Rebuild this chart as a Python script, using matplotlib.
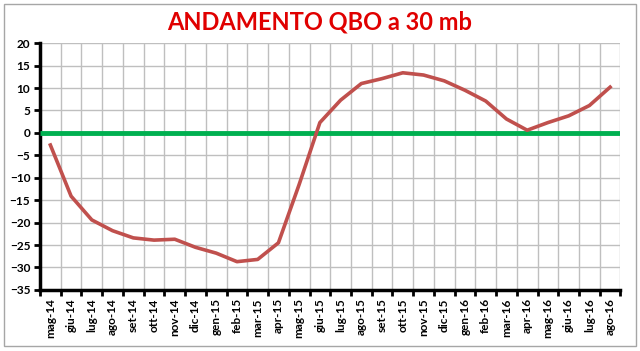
import matplotlib.pyplot as plt
import numpy as np
from matplotlib.patches import Rectangle

months = ["mag-14", "giu-14", "lug-14", "ago-14", "set-14", "ott-14", "nov-14",
          "dic-14", "gen-15", "feb-15", "mar-15", "apr-15", "mag-15", "giu-15",
          "lug-15", "ago-15", "set-15", "ott-15", "nov-15", "dic-15", "gen-16",
          "feb-16", "mar-16", "apr-16", "mag-16", "giu-16", "lug-16", "ago-16"]
qbo = [-2.7, -14.1, -19.4, -21.8, -23.4, -23.9, -23.7, -25.5, -26.8, -28.7,
       -28.2, -24.5, -11.5, 2.3, 7.3, 11.0, 12.1, 13.4, 12.9, 11.6, 9.5,
       7.1, 3.1, 0.6, 2.3, 3.8, 6.1, 10.2]
zero_line = [0] * len(months)

plt.rcParams['font.family'] = ['Lato', 'DejaVu Sans']

fig = plt.figure(figsize=(6.4, 3.51), dpi=100)
ax = fig.add_axes([0.0625, 0.174, 0.907, 0.703])

x = np.arange(len(months))
ax.plot(np.arange(-0.5, len(months), 1)[[0, -1]], [zero_line[0], zero_line[-1]],
        color='#00b050', lw=3.5, solid_capstyle='butt', zorder=3)
ax.plot(x, qbo, color='#c0504d', lw=2.6, zorder=4)

ax.set_xlim(-0.5, len(months) - 0.5)
ax.set_ylim(-35, 20)
ax.set_yticks(np.arange(-35, 21, 5))
ax.set_xticks(np.arange(-0.5, len(months), 1))
ax.set_xticklabels([])
ax.set_xticks(x, minor=True)
ax.set_xticklabels(months, minor=True, rotation=90, fontsize=8.5, fontweight='bold')
ax.tick_params(axis='x', which='minor', length=0, pad=6)
ax.tick_params(axis='x', which='major', length=4, width=2, direction='out')
ax.tick_params(axis='y', length=4, width=2, labelsize=8.5, pad=3)
for lab in ax.get_yticklabels():
    lab.set_fontweight('bold')

ax.grid(True, which='major', color='#bfbfbf', lw=1)
ax.set_axisbelow(True)
for s in ['top', 'right']:
    ax.spines[s].set_visible(False)
for s in ['left', 'bottom']:
    ax.spines[s].set_linewidth(2.5)
    ax.spines[s].set_color('black')

fig.text(0.5, 0.937, "ANDAMENTO QBO a 30 mb", ha='center', va='center',
         color='#e00000', fontsize=17, fontweight='bold')
fig.patches.append(Rectangle((0.006, 0.015), 0.988, 0.975, transform=fig.transFigure,
                             fill=False, edgecolor='#a6a6a6', lw=1))

fig.savefig('out.png', dpi=100)
